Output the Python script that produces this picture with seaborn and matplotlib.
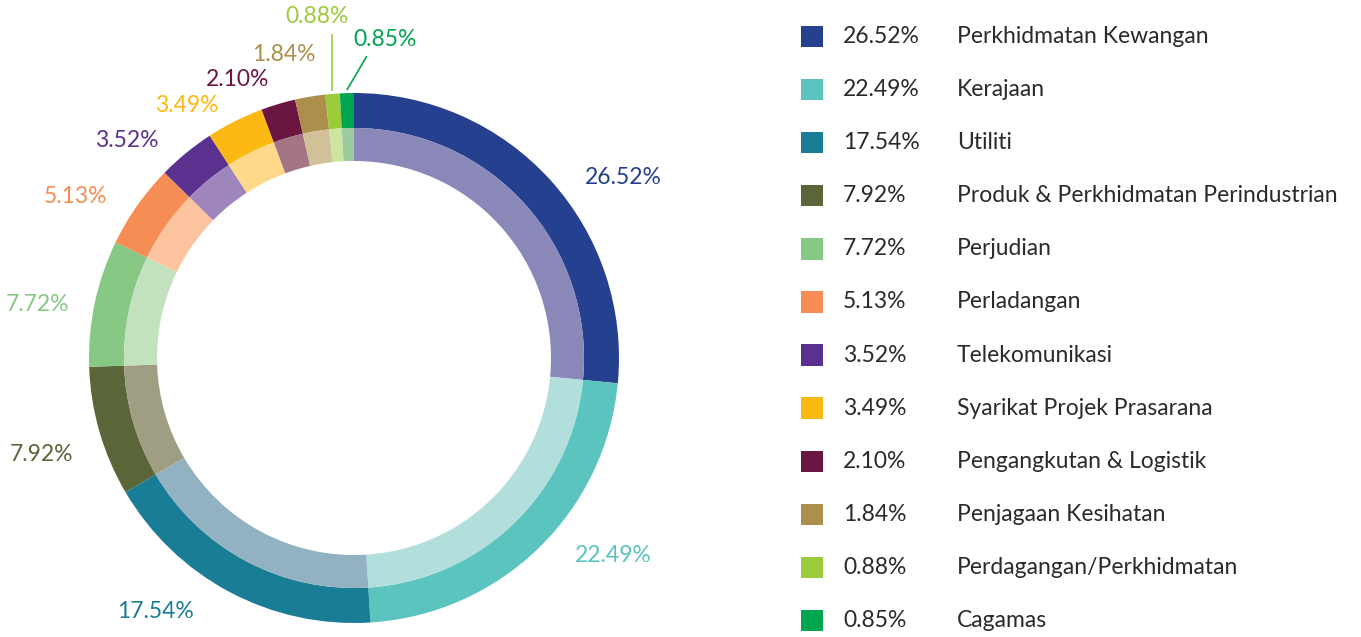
import numpy as np
import pandas as pd
import matplotlib
matplotlib.use("Agg")
import matplotlib.pyplot as plt
import seaborn as sns

# data
sectors = ["Perkhidmatan Kewangan", "Kerajaan", "Utiliti",
           "Produk & Perkhidmatan Perindustrian", "Perjudian", "Perladangan",
           "Telekomunikasi", "Syarikat Projek Prasarana", "Pengangkutan & Logistik",
           "Penjagaan Kesihatan", "Perdagangan/Perkhidmatan", "Cagamas"]
shares = [26.52, 22.49, 17.54, 7.92, 7.72, 5.13, 3.52, 3.49, 2.10, 1.84, 0.88, 0.85]
outer_colors = ["#24408E", "#5BC4BF", "#1A7D96", "#5A6538", "#88C885", "#F58D55",
                "#5B3190", "#FDB913", "#6A1640", "#AC8F4A", "#9BCB3B", "#00A54F"]
inner_colors = ["#8A88B8", "#B2DFDC", "#92B1C1", "#9F9D82", "#C2E2BE", "#FBC39E",
                "#9E86BC", "#FED98B", "#A47585", "#D1C098", "#CDE59C", "#9CCB9E"]

df = pd.DataFrame({"sector": sectors, "share": shares})
df["label"] = df["share"].map(lambda v: f"{v:.2f}%")
df["row"] = np.arange(len(df))

# hand tweaks for label placement (pixels, y up), like the original layout
label_nudge = {"26.52%": (12, -19), "22.49%": (15, 15), "17.54%": (-21, 8),
               "7.92%": (4, -14), "7.72%": (5, -8), "5.13%": (-5, -9),
               "3.52%": (-8, -12), "3.49%": (-3, -12), "2.10%": (0, -5),
               "1.84%": (11, 12)}
# small slices get a leader line: (line end offset, text offset, ha) from ring edge
leaders = {"0.88%": ((0, 57), (-15, 74), "center"),
           "0.85%": ((20, 34), (7, 51), "left")}

sns.set_theme(style="white")
plt.rcParams["font.family"] = ["Lato", "DejaVu Sans"]
text_col = "#2a2a2a"
fs = 16.5

fig = plt.figure(figsize=(13.61, 6.37), dpi=100)

# --- donut ---
W, H = 1361, 637
cx, cy = 354, 358
R_out, R_mid, R_in = 265, 230, 197
ax = fig.add_axes([0, 0, 790 / W, 1])
ax.pie(df["share"], radius=R_out, startangle=90, counterclock=False,
       colors=sns.color_palette(outer_colors),
       wedgeprops=dict(width=R_out - R_mid, linewidth=0))
ax.pie(df["share"], radius=R_mid, startangle=90, counterclock=False,
       colors=sns.color_palette(inner_colors),
       wedgeprops=dict(width=R_mid - R_in, linewidth=0))
ax.set_xlim(-cx, 790 - cx)
ax.set_ylim(-(H - cy), cy)
ax.set_aspect("equal")
ax.axis("off")

# labels around the ring
cum = np.cumsum([0] + shares[:-1])
mid_deg = 90 - (cum + np.array(shares) / 2) * 3.6
for lab, ang, col in zip(df["label"], mid_deg, outer_colors):
    a = np.deg2rad(ang)
    if lab in leaders:
        (lx, ly), (tx, ty), ha = leaders[lab]
        ex, ey = (R_out + 3) * np.cos(a), (R_out + 3) * np.sin(a)
        ax.plot([ex, ex + lx], [ey, ey + ly], color=col, lw=1.2,
                solid_capstyle="butt")
        ax.text(ex + tx, ey + ty, lab, ha=ha, va="center", color=col, fontsize=fs)
        continue
    r = 296
    dx, dy = label_nudge.get(lab, (0, 0))
    x, y = r * np.cos(a) + dx, r * np.sin(a) + dy
    ha = "left" if np.cos(a) > 0 else "right"
    ax.text(x, y, lab, ha=ha, va="center", color=col, fontsize=fs)

# --- legend block ---
lax = fig.add_axes([790 / W, (H - 647) / H, 571 / W, 637 / H])
sns.scatterplot(data=df, x=np.full(len(df), 22), y="row", hue="sector",
                palette=outer_colors, marker="s", s=235, linewidth=0,
                legend=False, ax=lax)
for _, row in df.iterrows():
    lax.text(53, row["row"], row["label"], ha="left", va="center",
             color=text_col, fontsize=fs)
    lax.text(167, row["row"], row["sector"], ha="left", va="center",
             color=text_col, fontsize=fs)
lax.set_xlim(0, 571)
lax.set_ylim(11.5, -0.5)
lax.axis("off")

fig.savefig("out.png", dpi=100, facecolor="white")
